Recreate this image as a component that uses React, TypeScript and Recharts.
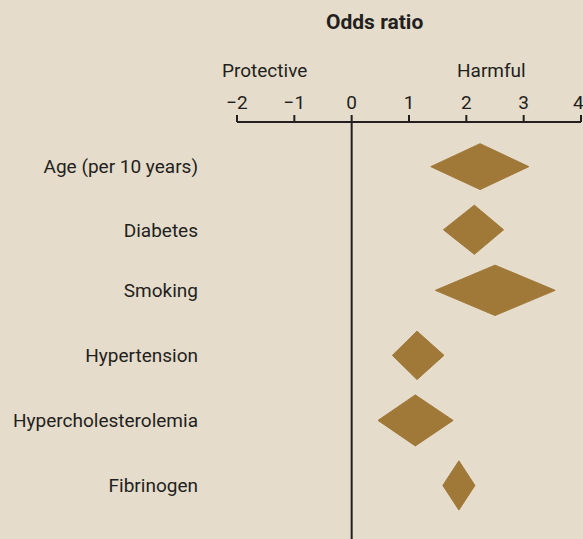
import React from 'react'
import { ComposedChart, Area, XAxis, YAxis, ReferenceLine } from 'recharts'

// Risk factors, top to bottom
const factors = ['Age (per 10 years)', 'Diabetes', 'Smoking', 'Hypertension', 'Hypercholesterolemia', 'Fibrinogen']
// vertical position of each row (row units)
const rowPos = [0, 0.99, 1.94, 2.96, 3.98, 5.0]
// Diamond: lower bound, point estimate, upper bound (odds ratio scale as drawn)
const lower = [1.38, 1.6, 1.46, 0.71, 0.46, 1.59]
const estimate = [2.24, 2.14, 2.5, 1.14, 1.11, 1.87]
const upper = [3.09, 2.65, 3.55, 1.61, 1.77, 2.15]
// half height of each diamond, in row units
const halfHeight = [0.36, 0.386, 0.395, 0.38, 0.4, 0.386]

const xTicks = [-2, -1, 0, 1, 2, 3, 4]

const BG = '#e5dccb'
const DIAMOND = '#a07838'
const INK = '#231f20'
const FONT = "Roboto, 'Liberation Sans Narrow', sans-serif"

const diamonds = factors.map((name, i) => ({
  name,
  data: [
    { x: lower[i], r: [rowPos[i], rowPos[i]] },
    { x: estimate[i], r: [rowPos[i] - halfHeight[i], rowPos[i] + halfHeight[i]] },
    { x: upper[i], r: [rowPos[i], rowPos[i]] },
  ],
}))

const fmtMinus = (v: number) => (v < 0 ? `\u2212${Math.abs(v)}` : `${v}`)
const rowLabel = (v: number) => factors[rowPos.indexOf(v)] ?? ''

export default function App() {
  return (
    <div style={{ position: 'fixed', left: 0, top: 0, width: 583, height: 539, background: BG, overflow: 'hidden', fontFamily: FONT, color: INK }}>
      <div style={{ position: 'absolute', left: 326, top: 12, fontSize: 21, fontWeight: 'bold', lineHeight: 1 }}>Odds ratio</div>
      <div style={{ position: 'absolute', left: 222, top: 61, fontSize: 19, lineHeight: 1 }}>Protective</div>
      <div style={{ position: 'absolute', left: 457, top: 61, fontSize: 19, lineHeight: 1 }}>Harmful</div>
      <ComposedChart width={583} height={539} margin={{ top: 82, right: 2, bottom: 0, left: 0 }}>
        <XAxis
          type="number"
          dataKey="x"
          orientation="top"
          domain={[-2, 4]}
          ticks={xTicks}
          allowDataOverflow
          height={40}
          tickSize={7}
          tickMargin={6}
          tickFormatter={fmtMinus}
          stroke={INK}
          strokeWidth={2}
          tick={{ fill: INK, fontSize: 19, fontFamily: FONT }}
        />
        <YAxis
          type="number"
          domain={[-0.7, 5.84]}
          reversed
          ticks={rowPos}
          interval={0}
          width={237}
          axisLine={false}
          tickLine={false}
          tickSize={0}
          tickMargin={39}
          tickFormatter={rowLabel}
          tick={{ fill: INK, fontSize: 19, fontFamily: FONT }}
        />
        <ReferenceLine x={0} stroke={INK} strokeWidth={2} />
        {diamonds.map(d => (
          <Area
            key={d.name}
            data={d.data}
            dataKey="r"
            type="linear"
            fill={DIAMOND}
            fillOpacity={1}
            stroke={DIAMOND}
            strokeWidth={1}
            isAnimationActive={false}
            dot={false}
            activeDot={false}
          />
        ))}
      </ComposedChart>
    </div>
  )
}
